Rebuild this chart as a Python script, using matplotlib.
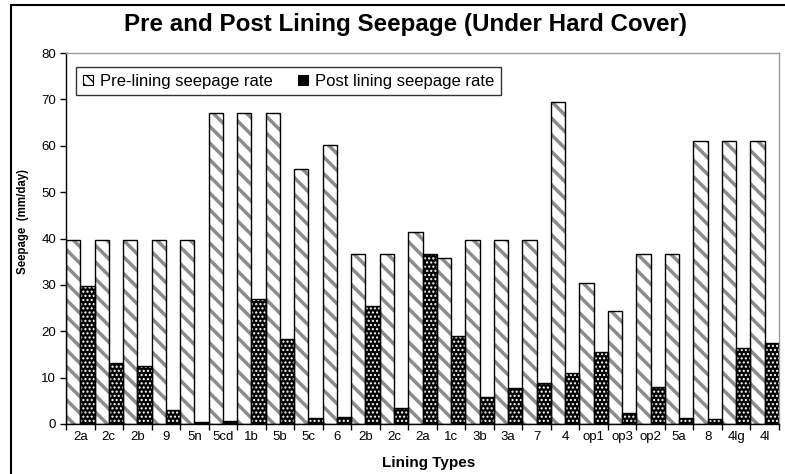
import numpy as np
import matplotlib.pyplot as plt
from matplotlib.patches import Rectangle, Patch

plt.rcParams['font.family'] = ['Liberation Sans', 'DejaVu Sans']

# values
lining_types = ['2a', '2c', '2b', '9', '5n', '5cd', '1b', '5b', '5c', '6', '2b', '2c', '2a',
                '1c', '3b', '3a', '7', '4', 'op1', 'op3', 'op2', '5a', '8', '4lg', '4l']
pre_lining = [39.6, 39.6, 39.6, 39.6, 39.6, 67.0, 67.0, 67.0, 55.0, 60.2, 36.6, 36.6, 41.5,
              35.9, 39.6, 39.6, 39.6, 69.4, 30.4, 24.3, 36.6, 36.6, 61.0, 61.0, 61.0]
post_lining = [29.8, 13.1, 12.5, 3.0, 0.5, 0.7, 27.0, 18.3, 1.4, 1.6, 25.5, 3.4, 36.6,
               18.9, 5.8, 7.7, 8.9, 10.9, 15.6, 2.3, 7.9, 1.2, 1.0, 16.3, 17.4]

x = np.arange(len(lining_types))
w = 0.5

fig = plt.figure(figsize=(7.85, 4.74), dpi=100)
ax = fig.add_axes([66 / 785, 1 - 424 / 474, (779 - 66) / 785, (424 - 53) / 474])

# pre-lining: white with grey diagonal stripes
plt.rcParams['hatch.linewidth'] = 2.5
pre = ax.bar(x - w / 2, pre_lining, w, color='white', edgecolor='#8c8c8c', hatch='\\\\', linewidth=0)
# post-lining: black with small white dots
plt.rcParams['hatch.linewidth'] = 1.0
post = ax.bar(x + w / 2, post_lining, w, color='black', edgecolor='white', hatch='....', linewidth=0)
for b in pre:
    if hasattr(b, 'set_hatch_linewidth'):
        b.set_hatch_linewidth(2.5)
for b in post:
    if hasattr(b, 'set_hatch_linewidth'):
        b.set_hatch_linewidth(1.0)
ax.bar(x - w / 2, pre_lining, w, fill=False, edgecolor='black', linewidth=1)
ax.bar(x + w / 2, post_lining, w, fill=False, edgecolor='black', linewidth=1)

ax.set_xlim(-0.5, len(lining_types) - 0.5)
ax.set_ylim(0, 80)
ax.set_yticks(np.arange(0, 81, 10))
ax.set_xticks(x)
ax.set_xticklabels(lining_types)
ax.set_xticks(np.arange(-0.5, len(lining_types), 1), minor=True)
ax.tick_params(axis='x', which='major', length=0, pad=5, labelsize=9.5)
ax.tick_params(axis='x', which='minor', length=4, width=1, direction='out')
ax.tick_params(axis='y', length=4, width=1, direction='out', pad=3, labelsize=9.5, colors='black')

for s in ['left', 'bottom']:
    ax.spines[s].set_color('black')
    ax.spines[s].set_linewidth(1)
for s in ['top', 'right']:
    ax.spines[s].set_color('#9a9a9a')
    ax.spines[s].set_linewidth(1)

ax.text(-0.060, 0.547, 'Seepage  (mm/day)', transform=ax.transAxes, rotation=90,
        fontsize=8.3, fontweight='bold', ha='center', va='center')
ax.text(0.508, -0.105, 'Lining Types', transform=ax.transAxes,
        fontsize=11, fontweight='bold', ha='center', va='center')
fig.text(0.516, 1 - 25 / 474, 'Pre and Post Lining Seepage (Under Hard Cover)',
         fontsize=17.4, fontweight='bold', ha='center', va='center')

handles = [Patch(facecolor='white', edgecolor='black', hatch='\\\\\\', linewidth=0.8),
           Patch(facecolor='black', edgecolor='black', linewidth=0.8)]
leg = ax.legend(handles, ['Pre-lining seepage rate', 'Post lining seepage rate'],
                loc='upper left', bbox_to_anchor=(0.014, 0.962), borderaxespad=0, ncol=2,
                fontsize=12, frameon=True, fancybox=False, edgecolor='black', handlelength=0.6,
                handleheight=0.6, handletextpad=0.45, columnspacing=1.5, borderpad=0.4)
leg.get_frame().set_linewidth(1)

# outer chart border (right and bottom edges run off the picture)
fig.patches.append(Rectangle((11 / 785, -0.05), 1.0, 1 - 5 / 474 + 0.05, transform=fig.transFigure,
                             fill=False, edgecolor='black', linewidth=1.5))

fig.savefig('out.png', dpi=100)
